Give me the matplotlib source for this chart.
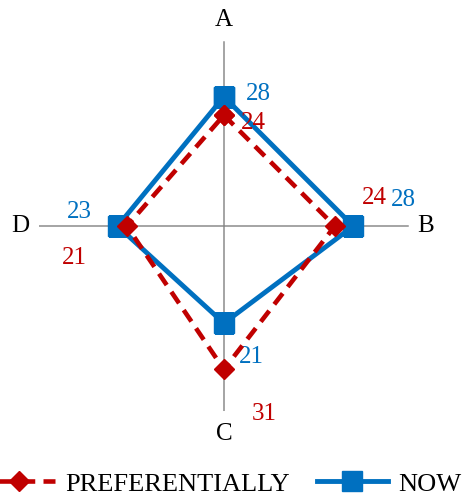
import numpy as np
import matplotlib.pyplot as plt

plt.rcParams['font.family'] = ['Liberation Serif', 'DejaVu Serif']

categories = ["A", "B", "C", "D"]
now_vals = [28, 28, 21, 23]
pref_vals = [24, 24, 31, 21]

blue = "#0070C0"
red = "#C00000"

angles = np.arange(len(categories)) * 2 * np.pi / len(categories)
ang_closed = np.append(angles, angles[0])
now_closed = now_vals + now_vals[:1]
pref_closed = pref_vals + pref_vals[:1]

fig = plt.figure(figsize=(4.64, 4.97), dpi=100)
ax = fig.add_axes([0.084, 0.173, 0.797, 0.744], projection="polar")
ax.set_theta_zero_location("N")
ax.set_theta_direction(-1)
ax.set_ylim(0, 40)
ax.set_yticks([])
ax.set_xticks(angles)
ax.set_xticklabels([])
ax.xaxis.grid(True, color="#8c8c8c", lw=1.1)
ax.spines["polar"].set_visible(False)
ax.patch.set_visible(False)

ax.plot(ang_closed, now_closed, color=blue, lw=3.5, marker="s", ms=14,
        label="NOW", zorder=3)
ax.plot(ang_closed, pref_closed, color=red, lw=3.3, dashes=(3, 1.8),
        marker="D", ms=10, label="PREFERENTIALLY", zorder=4)

# axis labels
lab_off = [(0, 21), (17, 0), (0, -23), (-19, 0)]
for a, c, off in zip(angles, categories, lab_off):
    ax.annotate(c, (a, 40), xytext=off, textcoords="offset pixels",
                ha="center", va="center", fontsize=18, color="black")

# data labels
now_off = [(34, 3), (50, 26), (27, -34), (-38, 14)]
pref_off = [(29, -8), (40, 28), (40, -45), (-52, -32)]
for a, v, off in zip(angles, now_vals, now_off):
    ax.annotate(str(v), (a, v), xytext=off, textcoords="offset pixels",
                ha="center", va="center", fontsize=18, color=blue)
for a, v, off in zip(angles, pref_vals, pref_off):
    ax.annotate(str(v), (a, v), xytext=off, textcoords="offset pixels",
                ha="center", va="center", fontsize=18, color=red)

h, l = ax.get_legend_handles_labels()
fig.legend(h[::-1], l[::-1], loc="lower center", bbox_to_anchor=(0.48, -0.045),
           ncol=2, frameon=False, fontsize=19, handlelength=2.7,
           columnspacing=1.0, handletextpad=0.4)

fig.savefig("out.png", dpi=100)
